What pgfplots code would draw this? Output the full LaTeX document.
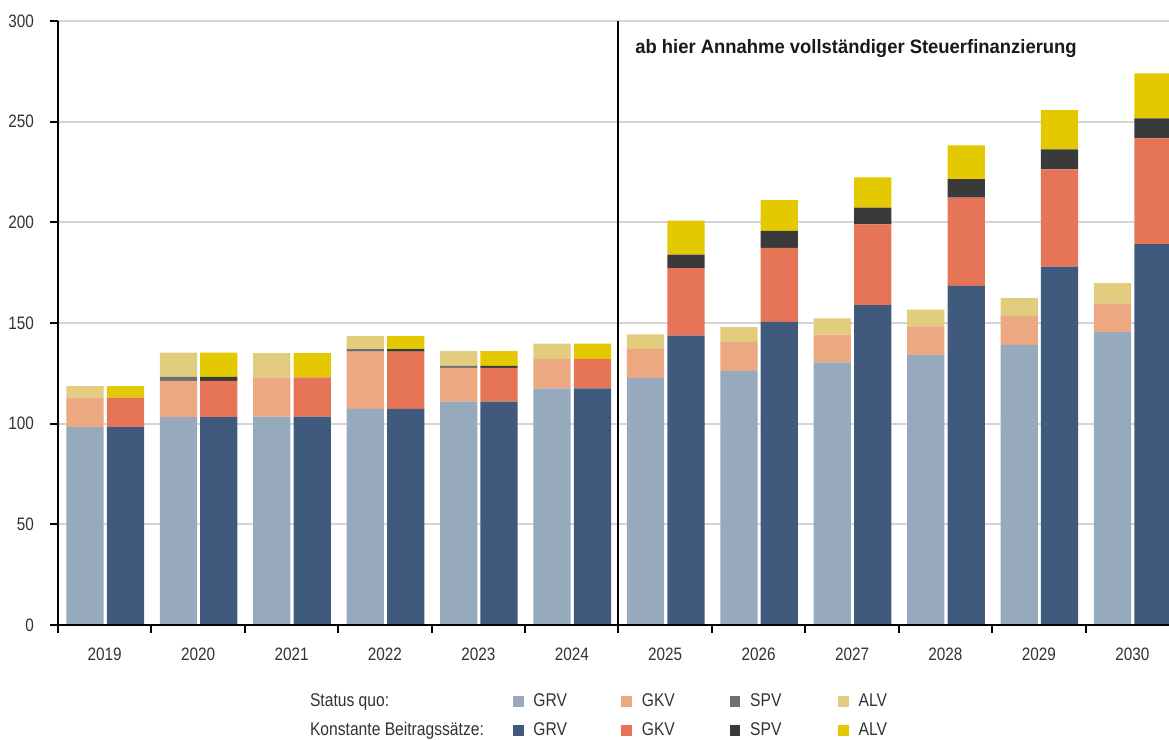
\documentclass[border=0pt]{standalone}
\usepackage{pgfplots}
\usepackage{pgfplotstable}
\pgfplotsset{compat=1.18}
\usepackage{fontspec}
\setmainfont{Liberation Sans}[FakeStretch=0.85]
\newfontfamily\titlefont{Liberation Sans}[FakeStretch=0.95]

\definecolor{sgrv}{RGB}{151,170,189}
\definecolor{sgkv}{RGB}{236,168,128}
\definecolor{sspv}{RGB}{112,112,112}
\definecolor{salv}{RGB}{226,204,125}
\definecolor{kgrv}{RGB}{64,90,125}
\definecolor{kgkv}{RGB}{229,117,86}
\definecolor{kspv}{RGB}{58,58,58}
\definecolor{kalv}{RGB}{228,200,0}
\definecolor{txt}{RGB}{50,50,50}

% x: 0 = 2019 ... 11 = 2030
\pgfplotstableread{
x  sgrv  sgkv  sspv salv  kgrv  kgkv  kspv kalv
0  98.3  14.6  0.0  5.8   98.3  14.6  0.0  5.8
1  103.3 18.0  1.9  12.1  103.3 18.0  1.9  12.1
2  103.5 19.5  0.0  12.0  103.5 19.5  0.0  12.0
3  107.3 28.5  1.2  6.5   107.3 28.5  1.2  6.5
4  111.0 16.7  1.0  7.3   111.0 16.7  1.0  7.3
5  117.5 14.5  0.0  7.8   117.5 14.5  0.0  7.8
6  122.7 14.5  0.0  7.2   143.7 33.6  6.7  16.8
7  126.2 14.4  0.0  7.4   150.5 36.8  8.4  15.3
8  130.4 13.8  0.0  8.1   158.9 40.1  8.3  15.0
9  134.1 14.2  0.0  8.4   168.4 43.9  9.2  16.7
10 139.1 14.4  0.0  9.0   178.0 48.3  10.0 19.4
11 145.5 14.3  0.0  10.0  189.2 52.5  10.0 22.3
}\datatab

\pgfplotsset{
  common/.style={
    scale only axis, width=555.5pt, height=302pt,
    xmin=-0.5, xmax=11.393, ymin=0, ymax=300,
    enlargelimits=false,
    at={(0pt,0pt)}, anchor=south west,
    ybar stacked, bar width=18.65pt,
  },
  sq/.style={draw=none, bar shift=-9.85pt},
  ko/.style={draw=none, bar shift=10.35pt},
}
\newcommand\sqimg[1]{\addlegendimage{legend image code/.code={\fill[#1] (0pt,-2.4pt) rectangle (4.8pt,2.4pt); \path (7.8pt,0pt);}}}
\newcommand\lbox[1]{\makebox[42pt][l]{#1}}

\begin{document}
\begin{tikzpicture}
% Status quo bars with grid
\begin{axis}[common,
  axis line style={draw=none},
  ytick={0,50,...,300}, yticklabels={}, xtick=\empty,
  major tick length=0pt, ytick style={draw=none},
  ymajorgrids, grid style={line width=1pt, black!17},
]
\addplot[sq, fill=sgrv] table[x=x, y=sgrv]{\datatab};
\addplot[sq, fill=sgkv] table[x=x, y=sgkv]{\datatab};
\addplot[sq, fill=sspv] table[x=x, y=sspv]{\datatab};
\addplot[sq, fill=salv] table[x=x, y=salv]{\datatab};
\end{axis}
% Konstante Beitragssaetze bars with axes
\begin{axis}[common,
  axis on top,
  axis x line=bottom, axis y line=left,
  axis line style={-, line width=1pt, black},
  ytick={0,50,...,300},
  xtick={0,1,2,3,4,5,6,7,8,9,10,11},
  xticklabels={2019,2020,2021,2022,2023,2024,2025,2026,2027,2028,2029,2030},
  minor xtick={-0.5,0.5,...,11.5},
  major x tick style={draw=none},
  tick align=outside,
  major tick length=4pt, minor tick length=4pt,
  tick style={line width=1pt, black},
  tick label style={font=\fontsize{9}{11}\selectfont, text=txt},
  /pgf/number format/assume math mode=true,
  xticklabel style={yshift=-4pt},
  yticklabel style={xshift=-4.5pt},
  legend columns=5,
  legend cell align=left,
  legend entries={\makebox[99.5pt][l]{Status quo:}, \lbox{GRV}, \lbox{GKV}, \lbox{SPV}, ALV, Konstante Beitragssätze:, \lbox{GRV}, \lbox{GKV}, \lbox{SPV}, ALV},
  legend style={draw=none, fill=none, inner sep=0pt,
    at={(0.2229,-0.106)}, anchor=north west,
    font=\fontsize{9.2}{11}\selectfont, text=txt,
    row sep=2.5pt,
  },
]
\addlegendimage{empty legend}
\sqimg{sgrv}
\sqimg{sgkv}
\sqimg{sspv}
\sqimg{salv}
\addlegendimage{empty legend}
\sqimg{kgrv}
\sqimg{kgkv}
\sqimg{kspv}
\sqimg{kalv}
\addplot[ko, fill=kgrv] table[x=x, y=kgrv]{\datatab};
\addplot[ko, fill=kgkv] table[x=x, y=kgkv]{\datatab};
\addplot[ko, fill=kspv] table[x=x, y=kspv]{\datatab};
\addplot[ko, fill=kalv] table[x=x, y=kalv]{\datatab};
\draw[line width=1pt, black] (axis cs:5.5,0) -- (axis cs:5.5,300);
\node[anchor=west, inner sep=0pt, font=\titlefont\bfseries\fontsize{9.7}{11}\selectfont, text=black!90]
  at (axis cs:5.676,286.5) {ab hier Annahme vollständiger Steuerfinanzierung};
\end{axis}
\pgfresetboundingbox
\useasboundingbox (-29pt,-57.5pt) rectangle (555.5pt,312.5pt);
\end{tikzpicture}
\end{document}
